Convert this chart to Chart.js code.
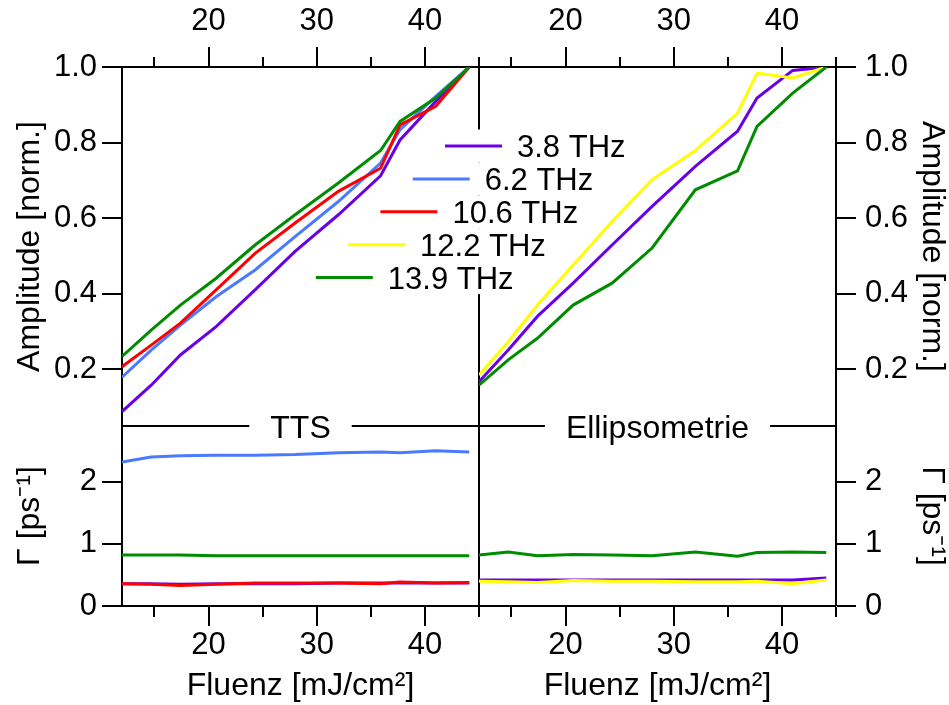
<!DOCTYPE html>
<html>
<head>
<meta charset="utf-8">
<script src="https://cdn.jsdelivr.net/npm/chart.js@4.4.1/dist/chart.umd.min.js"></script>
<style>
  html, body { margin: 0; padding: 0; background: #fff; }
  #wrap { position: relative; width: 949px; height: 705px; }
</style>
</head>
<body>
<div id="wrap"><canvas id="chart" width="949" height="705"></canvas></div>
<script>
// fluence (mJ/cm^2), same sampling for TTS and ellipsometry
const fluenz = [12.0, 14.7, 17.4, 20.7, 24.3, 28.0, 32.0, 35.9, 37.7, 41.0, 44.1]

// normalized amplitude, TTS
const ampTts38 = [0.088, 0.158, 0.238, 0.313, 0.410, 0.512, 0.609, 0.712, 0.807, 0.909, 1.0]
const ampTts62 = [0.179, 0.251, 0.317, 0.392, 0.463, 0.551, 0.644, 0.746, 0.834, 0.922, 1.0]
const ampTts106 = [0.207, 0.264, 0.322, 0.410, 0.507, 0.587, 0.671, 0.732, 0.847, 0.896, 1.0]
const ampTts139 = [0.234, 0.304, 0.370, 0.441, 0.529, 0.609, 0.693, 0.779, 0.856, 0.918, 1.0]

// normalized amplitude, ellipsometry
const ampEll38 = [0.167, 0.251, 0.340, 0.428, 0.529, 0.631, 0.737, 0.830, 0.918, 0.991, 1.0]
const ampEll122 = [0.185, 0.273, 0.370, 0.476, 0.591, 0.702, 0.779, 0.878, 0.984, 0.971, 1.0]
const ampEll139 = [0.158, 0.225, 0.282, 0.370, 0.428, 0.521, 0.675, 0.725, 0.843, 0.931, 1.0]

// damping Gamma (1/ps), TTS
const gamTts38 = [0.36, 0.36, 0.35, 0.36, 0.36, 0.36, 0.37, 0.37, 0.37, 0.37, 0.37]
const gamTts62 = [2.32, 2.40, 2.42, 2.43, 2.43, 2.44, 2.47, 2.48, 2.47, 2.50, 2.48]
const gamTts106 = [0.36, 0.35, 0.33, 0.35, 0.37, 0.37, 0.37, 0.36, 0.385, 0.37, 0.38]
const gamTts139 = [0.82, 0.82, 0.82, 0.81, 0.81, 0.81, 0.81, 0.81, 0.81, 0.81, 0.81]

// damping Gamma (1/ps), ellipsometry
const gamEll38 = [0.42, 0.42, 0.42, 0.42, 0.42, 0.42, 0.42, 0.42, 0.42, 0.42, 0.45]
const gamEll122 = [0.40, 0.39, 0.38, 0.41, 0.40, 0.40, 0.39, 0.39, 0.40, 0.36, 0.42]
const gamEll139 = [0.82, 0.87, 0.81, 0.83, 0.82, 0.81, 0.87, 0.80, 0.86, 0.87, 0.86]

const xTicks = [15, 20, 25, 30, 35, 40, 45]
const xLabels = [20, 30, 40]
const ampTicks = [0.2, 0.4, 0.6, 0.8, 1.0]
const gammaTicks = [0, 1, 2]
const panelLabels = ['TTS', 'Ellipsometrie']
const modeLabels = ['3.8 THz', '6.2 THz', '10.6 THz', '12.2 THz', '13.9 THz']

const PURPLE = '#6a00e6'
const BLUE = '#4a7aff'
const RED = '#ff0000'
const YELLOW = '#ffff00'
const GREEN = '#008c00'
const modeColors = [PURPLE, BLUE, RED, YELLOW, GREEN]

const FONT = "'Liberation Sans', Arial, Helvetica, sans-serif"
const tickFont = { family: FONT, size: 31, lineHeight: 1 }
const titleFont = { family: FONT, size: 32, lineHeight: 1 }
const AMP_MIN = 0.05

function series(ys, color, xId, yId) {
    return {
        data: fluenz.map((x, i) => ({ x: x, y: ys[i] })),
        borderColor: color,
        backgroundColor: color,
        borderWidth: 3,
        pointRadius: 0,
        tension: 0,
        xAxisID: xId,
        yAxisID: yId
    }
}

function xAxis(position, weight, divider, showTitle) {
    const top = position === 'top'
    return {
        type: 'linear', axis: 'x', position: position,
        stack: top ? 'xt' : 'xb', stackWeight: 1, weight: weight,
        min: 12, max: 45,
        afterBuildTicks: s => { s.ticks = xTicks.map(v => ({ value: v })) },
        afterFit: s => { s.height = top ? 67 : 99 },
        border: { display: true, color: '#000', width: 2 },
        grid: {
            drawOnChartArea: divider,
            color: '#000',
            lineWidth: ctx => (divider && ctx.tick && ctx.tick.value === 45) ? 2 : 0,
            tickLength: 20,
            tickWidth: 2,
            tickColor: '#000',
            // minor ticks are half length
            tickBorderDash: ctx => (ctx.tick && ctx.tick.value % 10) ? [10, 10] : [],
            tickBorderDashOffset: ctx => (top && ctx.tick && ctx.tick.value % 10) ? 10 : 0
        },
        ticks: {
            font: tickFont, color: '#000', padding: top ? 10 : 4,
            maxRotation: 0, minRotation: 0, autoSkip: false,
            callback: v => xLabels.includes(v) ? String(v) : ''
        },
        title: {
            display: showTitle, text: 'Fluenz [mJ/cm²]', font: titleFont, color: '#000',
            padding: { top: 0, bottom: 3 }
        }
    }
}

function yAxis(position, weight, amp) {
    const left = position === 'left'
    return {
        type: 'linear', axis: 'y', position: position,
        stack: left ? 'yl' : 'yr', stackWeight: amp ? 359 : 180, weight: weight,
        min: amp ? AMP_MIN : 0, max: amp ? 1.0 : 2.9,
        afterBuildTicks: s => { s.ticks = (amp ? [AMP_MIN].concat(ampTicks) : gammaTicks).map(v => ({ value: v })) },
        afterFit: s => { s.width = left ? 122 : 113 },
        border: { display: true, color: '#000', width: 2 },
        grid: {
            drawOnChartArea: amp && left,
            color: '#000',
            lineWidth: ctx => (ctx.tick && ctx.tick.value === AMP_MIN) ? 2 : 0,
            tickLength: 20,
            tickWidth: 2,
            tickColor: ctx => (ctx.tick && ctx.tick.value === AMP_MIN) ? 'rgba(0,0,0,0)' : '#000'
        },
        ticks: {
            font: tickFont, color: '#000', padding: left ? 5 : 9,
            callback: v => amp ? (v === AMP_MIN ? '' : v.toFixed(1)) : String(v)
        },
        title: {
            display: true, text: amp ? 'Amplitude [norm.]' : 'Γ [ps⁻¹]', font: titleFont, color: '#000',
            padding: { top: left ? 14 : 1, bottom: 0 }
        }
    }
}

// panel captions on the divider line and the staggered legend
const overlayPlugin = {
    id: 'overlay',
    afterDraw(chart) {
        const ctx = chart.ctx
        const yTop = chart.scales.y1
        ctx.save()
        ctx.font = `32px ${FONT}`
        ctx.textAlign = 'center'
        ctx.textBaseline = 'alphabetic'
        ;['x1', 'x2'].forEach((id, i) => {
            const s = chart.scales[id]
            const cx = (s.left + s.right) / 2
            const w = ctx.measureText(panelLabels[i]).width + 42
            ctx.fillStyle = '#fff'
            ctx.fillRect(cx - w / 2, yTop.bottom - 3, w, 6)
            ctx.fillStyle = '#000'
            ctx.fillText(panelLabels[i], cx, yTop.bottom + 11.5)
        })

        ctx.font = `31px ${FONT}`
        ctx.textAlign = 'left'
        const x0 = chart.scales.x1.right - 34
        const y0 = chart.chartArea.top + 79
        modeLabels.forEach((label, i) => {
            const lx = x0 - 32.3 * i
            const ly = y0 + 32.9 * i
            const tw = ctx.measureText(label).width
            ctx.fillStyle = '#fff'
            ctx.fillRect(lx - 2, ly - 16.5, 72 + tw + 4, 33)
            ctx.strokeStyle = modeColors[i]
            ctx.lineWidth = 3
            ctx.beginPath()
            ctx.moveTo(lx, ly)
            ctx.lineTo(lx + 57, ly)
            ctx.stroke()
            ctx.fillStyle = '#000'
            ctx.fillText(label, lx + 72, ly + 11)
        })
        ctx.restore()
    }
}

function main() {
    const datasets = [
        // first listed is drawn on top
        series(ampTts139, GREEN, 'x1', 'y1'),
        series(ampTts106, RED, 'x1', 'y1'),
        series(ampTts62, BLUE, 'x1', 'y1'),
        series(ampTts38, PURPLE, 'x1', 'y1'),
        series(ampEll139, GREEN, 'x2', 'y1'),
        series(ampEll122, YELLOW, 'x2', 'y1'),
        series(ampEll38, PURPLE, 'x2', 'y1'),
        series(gamTts106, RED, 'x1', 'y2'),
        series(gamTts38, PURPLE, 'x1', 'y2'),
        series(gamTts139, GREEN, 'x1', 'y2'),
        series(gamTts62, BLUE, 'x1', 'y2'),
        series(gamEll122, YELLOW, 'x2', 'y2'),
        series(gamEll38, PURPLE, 'x2', 'y2'),
        series(gamEll139, GREEN, 'x2', 'y2')
    ]

    new Chart(document.getElementById('chart').getContext('2d'), {
        type: 'line',
        data: { datasets: datasets },
        options: {
            responsive: false,
            animation: false,
            devicePixelRatio: 1,
            layout: { padding: 0 },
            plugins: { legend: { display: false }, tooltip: { enabled: false } },
            scales: {
                x1: xAxis('bottom', 0, true, true),
                x2: xAxis('bottom', 1, false, true),
                x1t: xAxis('top', 1, false, false),
                x2t: xAxis('top', 0, false, false),
                y1: yAxis('left', 1, true),
                y2: yAxis('left', 0, false),
                y1r: yAxis('right', 0, true),
                y2r: yAxis('right', 1, false)
            }
        },
        plugins: [overlayPlugin]
    })
}

window.onload = main
</script>
</body>
</html>
